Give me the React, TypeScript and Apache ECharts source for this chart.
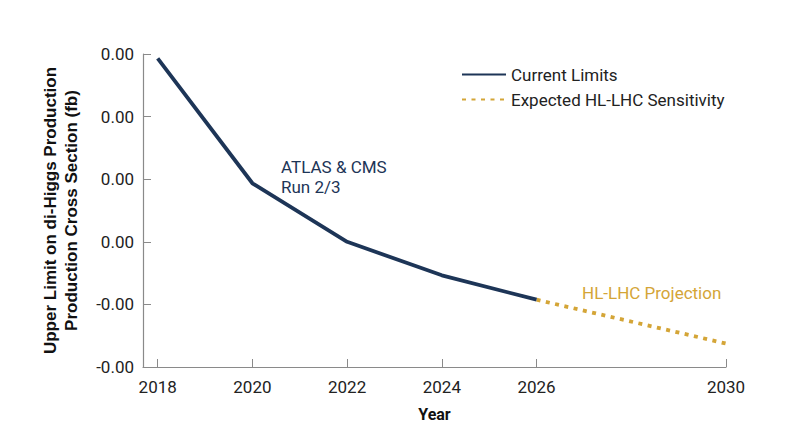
import React, { useEffect, useRef } from "react";
import * as echarts from "echarts";

const years = [2018, 2020, 2022, 2024, 2026];
const currentLimits = [5.86, 1.87, 0.0, -1.07, -1.85];
const projYears = [2026, 2030];
const projection = [-1.85, -3.25];
const xTicks = [2018, 2020, 2022, 2024, 2026, 2030];
const yTickLabels = ["-0.00", "-0.00", "0.00", "0.00", "0.00", "0.00"];
const yMin = -4;
const yMax = 6;
const yStep = 2;

const NAVY = "#1d3557";
const GOLD = "#d4a537";
const FONT = "Roboto, 'Noto Sans', sans-serif";
const NAME_FONT = "'Liberation Sans', Arial, sans-serif";

export default function App() {
  const ref = useRef<HTMLDivElement>(null);
  useEffect(() => {
    document.body.style.margin = "0";
    if (!ref.current) return;
    const chart = echarts.init(ref.current, null, { renderer: "svg" });
    chart.setOption({
      animation: false,
      backgroundColor: "#ffffff",
      textStyle: { fontFamily: FONT },
      grid: { left: 143, right: 74, top: 54, bottom: 80, containLabel: false },
      legend: {
        orient: "vertical",
        left: 456,
        top: 61,
        itemWidth: 44,
        itemHeight: 14,
        itemGap: 8,
        itemStyle: { opacity: 0 },
        textStyle: { fontFamily: FONT, fontSize: 17, color: "#222" },
        data: ["Current Limits", "Expected HL-LHC Sensitivity"],
      },
      xAxis: {
        type: "value",
        min: 2017.69,
        max: 2030,
        name: "Year",
        nameLocation: "middle",
        nameGap: 39,
        nameTextStyle: { fontFamily: FONT, fontSize: 16, fontWeight: "bold", color: "#111" },
        axisLine: { show: true, onZero: false, lineStyle: { color: "#8a8a8a", width: 1.2 } },
        axisTick: { show: true, inside: true, length: 8, customValues: xTicks, lineStyle: { color: "#8a8a8a" } },
        axisLabel: {
          customValues: xTicks,
          formatter: (v: number) => String(v),
          fontFamily: FONT,
          fontSize: 17,
          color: "#222",
          margin: 11,
        },
        splitLine: { show: false },
      },
      yAxis: {
        type: "value",
        min: yMin,
        max: yMax,
        interval: yStep,
        name: "Upper Limit on di-Higgs Production\nProduction Cross Section (fb)",
        nameLocation: "middle",
        nameRotate: 90,
        nameGap: 61,
        nameTextStyle: { fontFamily: NAME_FONT, fontSize: 17, fontWeight: "bold", color: "#111", lineHeight: 21 },
        axisLine: { show: true, onZero: false, lineStyle: { color: "#8a8a8a", width: 1.2 } },
        axisTick: { show: true, inside: true, length: 8, lineStyle: { color: "#8a8a8a" } },
        axisLabel: {
          formatter: (v: number) => yTickLabels[Math.round((v - yMin) / yStep)] ?? "",
          fontFamily: FONT,
          fontSize: 17,
          color: "#222",
          margin: 9,
        },
        splitLine: { show: false },
      },
      series: [
        {
          name: "Current Limits",
          type: "line",
          data: years.map((y, i) => [y, currentLimits[i]]),
          showSymbol: false,
          symbol: "none",
          lineStyle: { color: NAVY, width: 3.8 },
          itemStyle: { color: NAVY },
          z: 3,
        },
        {
          name: "Expected HL-LHC Sensitivity",
          type: "line",
          data: projYears.map((y, i) => [y, projection[i]]),
          showSymbol: false,
          symbol: "none",
          lineStyle: { color: GOLD, width: 3.8, type: [4, 5.5] },
          itemStyle: { color: GOLD },
          z: 2,
        },
      ],
      graphic: [
        {
          type: "text",
          left: 281,
          top: 157,
          style: {
            text: "ATLAS & CMS\nRun 2/3",
            fill: NAVY,
            font: `17px ${FONT}`,
            lineHeight: 20,
          },
        },
        {
          type: "text",
          left: 582,
          top: 284,
          style: {
            text: "HL-LHC Projection",
            fill: GOLD,
            font: `17px ${FONT}`,
          },
        },
      ],
    });
    return () => chart.dispose();
  }, []);
  return <div ref={ref} style={{ width: 800, height: 447 }} />;
}
